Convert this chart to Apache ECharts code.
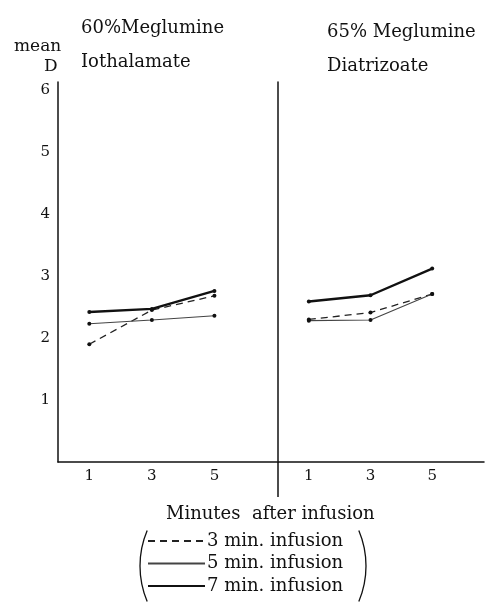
<!DOCTYPE html>
<html>
<head>
<meta charset="utf-8">
<script src="https://cdn.jsdelivr.net/npm/echarts@6/dist/echarts.min.js"></script>
<style>
  html, body { margin:0; padding:0; background:#fff; }
  #chartmain { width:487px; height:605px; }
</style>
</head>
<body>
<div id="chartmain"></div>
<script>
// minutes after infusion (x values)
var minutes = [1, 3, 5];
var yTicks = [1, 2, 3, 4, 5, 6];
var xTicks = [1, 3, 5];
var seriesNames = ['3 min. infusion', '5 min. infusion', '7 min. infusion'];

// 60% Meglumine Iothalamate
var ioth3 = [1.90, 2.45, 2.68];
var ioth5 = [2.23, 2.29, 2.36];
var ioth7 = [2.42, 2.47, 2.76];

// 65% Meglumine Diatrizoate
var diat3 = [2.30, 2.41, 2.71];
var diat5 = [2.28, 2.29, 2.71];
var diat7 = [2.59, 2.69, 3.12];

var FONT = '"DejaVu Serif", "Liberation Serif", serif';
var INK = '#111';

function pairs(vals){
    var out = [];
    for (var i = 0; i < minutes.length; i++) out.push([minutes[i], vals[i]]);
    return out;
}

var styles = [
    { width:1.3, type:[7,5], color:'#222' },
    { width:1.1, type:'solid', color:'#444' },
    { width:2.4, type:'solid', color:INK }
];

function mkSeries(name, vals, idx, st){
    return {
        name:name, type:'line', xAxisIndex:idx, yAxisIndex:idx,
        data:pairs(vals), symbol:'circle', symbolSize:4,
        itemStyle:{ color:INK },
        lineStyle:st, animation:false
    };
}

var xAx = function(idx, max){
    return {
        type:'value', gridIndex:idx, min:0, max:max, interval:1,
        axisLine:{ show:true, lineStyle:{ color:INK, width:1.5 } },
        axisTick:{ show:false }, splitLine:{ show:false },
        axisLabel:{
            margin:7, color:INK, fontFamily:FONT, fontSize:15,
            formatter:function(v){ return xTicks.indexOf(v) >= 0 ? String(v) : ''; }
        }
    };
};
var yAx = function(idx, labels){
    return {
        type:'value', gridIndex:idx, min:0, max:6.13, interval:1,
        axisLine:{ show:true, onZero:false, lineStyle:{ color:INK, width:1.5 } },
        axisTick:{ show:false }, splitLine:{ show:false },
        axisLabel:{
            show:labels, margin:8, color:INK, fontFamily:FONT, fontSize:15,
            formatter:function(v){ return yTicks.indexOf(v) >= 0 ? String(v) : ''; }
        }
    };
};

var chart = echarts.init(document.getElementById('chartmain'));
var option = {
    backgroundColor:'#fff',
    animation:false,
    title:[
        { text:'60%Meglumine\nIothalamate', left:76, top:6,
          textStyle:{ fontFamily:FONT, fontSize:18, fontWeight:'normal', lineHeight:34, color:INK } },
        { text:'65% Meglumine\nDiatrizoate', left:322, top:10,
          textStyle:{ fontFamily:FONT, fontSize:18, fontWeight:'normal', lineHeight:34, color:INK } },
        { text:'mean', left:9, top:33,
          textStyle:{ fontFamily:FONT, fontSize:17, fontWeight:'normal', color:INK } },
        { text:'D', left:39, top:53,
          textStyle:{ fontFamily:FONT, fontSize:17, fontWeight:'normal', color:INK } },
        { text:'Minutes  after infusion', left:161, top:500,
          textStyle:{ fontFamily:FONT, fontSize:18, fontWeight:'normal', color:INK } }
    ],
    legend:{
        orient:'vertical', left:147, top:532, padding:0,
        itemWidth:57, itemHeight:14, itemGap:4.5,
        data:seriesNames,
        itemStyle:{ opacity:0 },
        textStyle:{ fontFamily:FONT, fontSize:18, color:INK, padding:[0,0,0,-3] }
    },
    grid:[
        { left:58, width:219, top:82, bottom:143 },
        { left:278, right:0, top:82, bottom:143 }
    ],
    xAxis:[ xAx(0, 7), xAx(1, 6.68) ],
    yAxis:[ yAx(0, true), yAx(1, false) ],
    series:[
        mkSeries(seriesNames[0], ioth3, 0, styles[0]),
        mkSeries(seriesNames[1], ioth5, 0, styles[1]),
        mkSeries(seriesNames[2], ioth7, 0, styles[2]),
        mkSeries(seriesNames[0], diat3, 1, styles[0]),
        mkSeries(seriesNames[1], diat5, 1, styles[1]),
        mkSeries(seriesNames[2], diat7, 1, styles[2])
    ]
};
chart.setOption(option);

// divider runs down past the x axis, and brackets around the legend
var o = chart.convertToPixel({ gridIndex:1 }, [0, 0]);
chart.setOption({
    graphic:[
        { type:'line', shape:{ x1:o[0], y1:o[1], x2:o[0], y2:o[1] + 35 },
          style:{ stroke:INK, lineWidth:1.5 } },
        { type:'arc', shape:{ cx:231, cy:566, r:91, startAngle:Math.PI - 0.4, endAngle:Math.PI + 0.4 },
          style:{ stroke:INK, lineWidth:1.3, fill:null } },
        { type:'arc', shape:{ cx:275, cy:566, r:91, startAngle:-0.4, endAngle:0.4 },
          style:{ stroke:INK, lineWidth:1.3, fill:null } }
    ]
});
</script>
</body>
</html>
